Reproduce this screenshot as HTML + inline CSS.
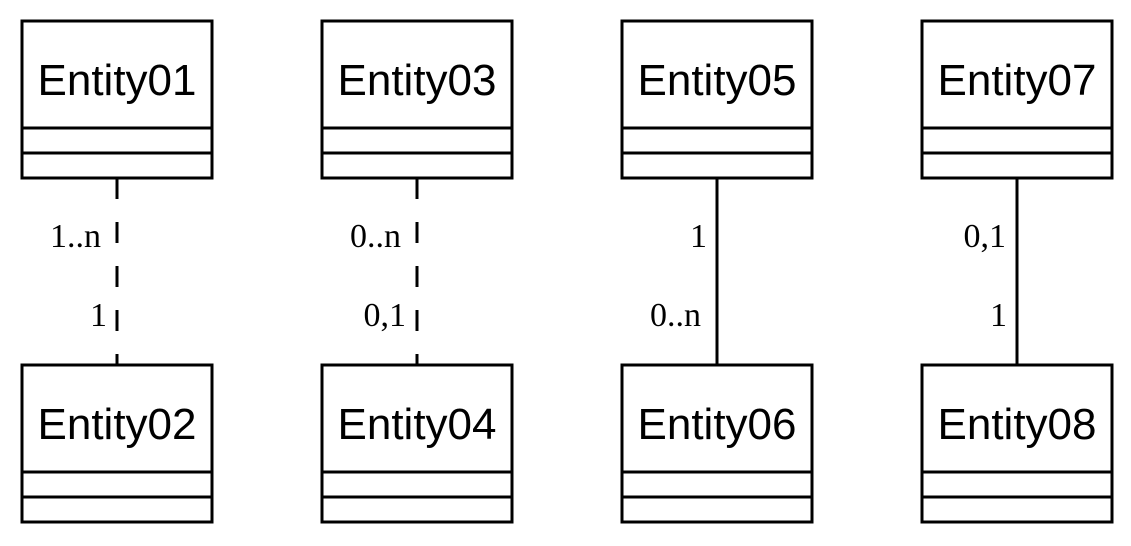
<!DOCTYPE html>
<html><head><style>body{margin:0;background:#fff}</style></head><body>
<svg width="1131" height="541" xmlns="http://www.w3.org/2000/svg">
<g stroke="#000" stroke-width="3" fill="none">
<rect x="22" y="21" width="190" height="157"/><line x1="22" y1="128" x2="212" y2="128"/><line x1="22" y1="153" x2="212" y2="153"/>
<rect x="22" y="365" width="190" height="157"/><line x1="22" y1="472" x2="212" y2="472"/><line x1="22" y1="497" x2="212" y2="497"/>
<rect x="322" y="21" width="190" height="157"/><line x1="322" y1="128" x2="512" y2="128"/><line x1="322" y1="153" x2="512" y2="153"/>
<rect x="322" y="365" width="190" height="157"/><line x1="322" y1="472" x2="512" y2="472"/><line x1="322" y1="497" x2="512" y2="497"/>
<rect x="622" y="21" width="190" height="157"/><line x1="622" y1="128" x2="812" y2="128"/><line x1="622" y1="153" x2="812" y2="153"/>
<rect x="622" y="365" width="190" height="157"/><line x1="622" y1="472" x2="812" y2="472"/><line x1="622" y1="497" x2="812" y2="497"/>
<rect x="922" y="21" width="190" height="157"/><line x1="922" y1="128" x2="1112" y2="128"/><line x1="922" y1="153" x2="1112" y2="153"/>
<rect x="922" y="365" width="190" height="157"/><line x1="922" y1="472" x2="1112" y2="472"/><line x1="922" y1="497" x2="1112" y2="497"/>
<line x1="117" y1="178" x2="117" y2="365" stroke-dasharray="21 23"/>
<line x1="417" y1="178" x2="417" y2="365" stroke-dasharray="21 23"/>
<line x1="717" y1="178" x2="717" y2="365"/>
<line x1="1017" y1="178" x2="1017" y2="365"/>
</g>
<g font-family="Liberation Sans, sans-serif" font-size="44" text-anchor="middle" fill="#000">
<text x="117" y="95">Entity01</text><text x="117" y="439">Entity02</text>
<text x="417" y="95">Entity03</text><text x="417" y="439">Entity04</text>
<text x="717" y="95">Entity05</text><text x="717" y="439">Entity06</text>
<text x="1017" y="95">Entity07</text><text x="1017" y="439">Entity08</text>
</g>
<g font-family="Liberation Serif, serif" font-size="34" text-anchor="end" fill="#000">
<text x="101" y="247">1..n</text><text x="107" y="326">1</text>
<text x="401" y="247">0..n</text><text x="406" y="326">0,1</text>
<text x="707" y="247">1</text><text x="701" y="326">0..n</text>
<text x="1006" y="247">0,1</text><text x="1007" y="326">1</text>
</g>
</svg>
</body></html>
